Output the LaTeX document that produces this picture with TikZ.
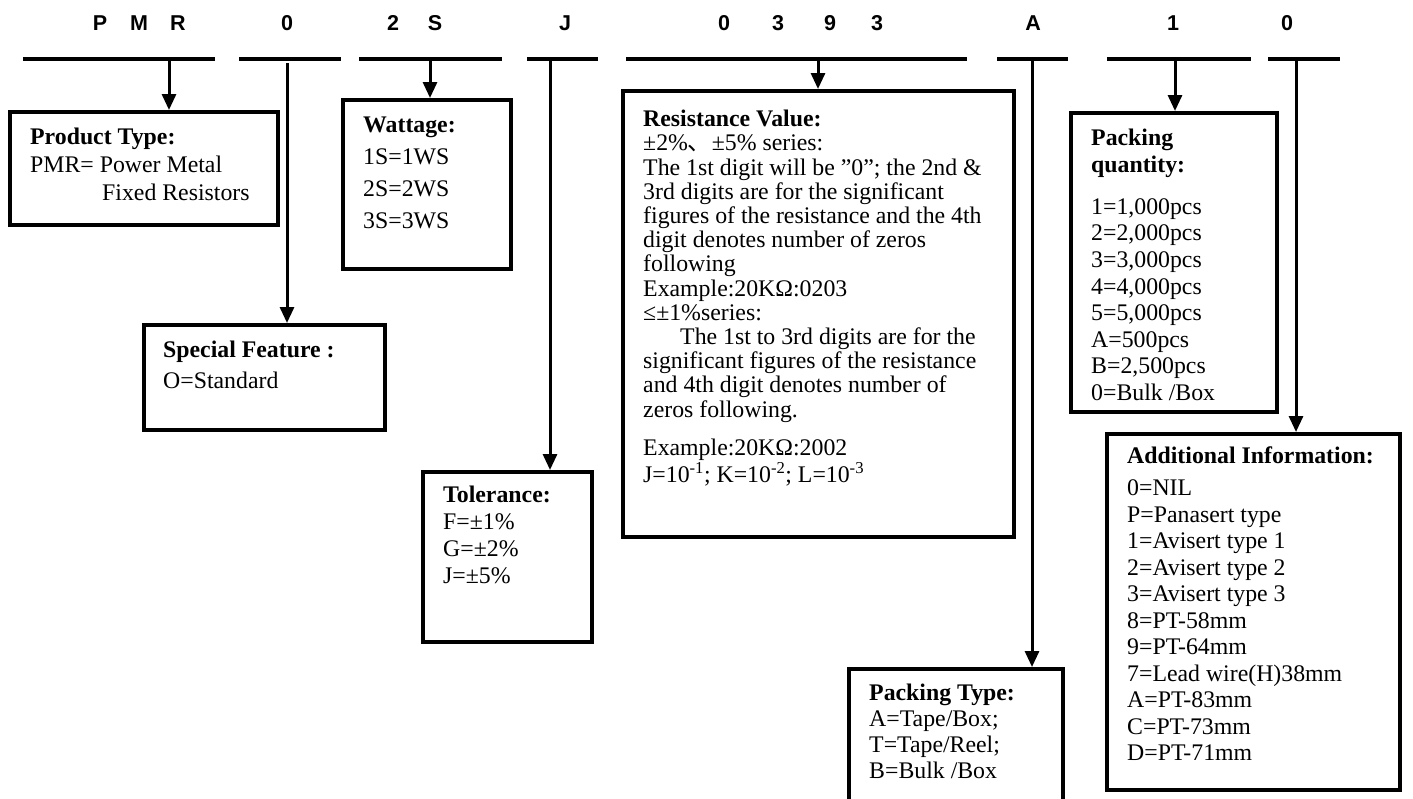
\documentclass[tikz,border=0pt]{standalone}
\usepackage{fontspec}
\setmainfont{Liberation Serif}
\newfontfamily\codefont{Liberation Sans}
\newfontfamily\cjk{Noto Sans CJK SC}
\usetikzlibrary{arrows.meta,calc}
\begin{document}
\begin{tikzpicture}[x=1pt,y=-1pt,
  bar/.style={line width=4pt},
  conn/.style={line width=3pt,-{Triangle[width=14pt,length=16pt]}},
  box/.style={draw,line width=3.5pt,rectangle,inner sep=0pt,anchor=north west},
  txt/.style={anchor=north west,inner sep=0pt,align=left,font=\fontsize{23.8}{#1}\selectfont},
  code/.style={font=\codefont\bfseries\fontsize{21.5}{24}\selectfont,inner sep=0pt,anchor=base}]
\useasboundingbox (0,0) rectangle (1413,798);
\fill[white] (0,0) rectangle (1413,798);

% code letters
\foreach \x/\t [count=\i] in {100/P,139/M,178/R,287/0,393/2,435/S,565/J,724/0,778/3,830/9,877/3,1033/A,1173/1,1287/0}
  \node[code] (c\i) at (\x,30.2) {\t};

% bars
\foreach \a/\b [count=\i] in {23/215,239/341,359/502,527/598,626/967,997/1068,1107/1251,1268/1340}{
  \coordinate (bl\i) at (\a,58.5);
  \coordinate (br\i) at (\b,58.5);
  \draw[bar] (bl\i) -- (br\i);
}

% boxes
\node[box,minimum width=268,minimum height=113] (ptype) at (8,110) {};
\node[box,minimum width=241,minimum height=105] (spec) at (142,323) {};
\node[box,minimum width=168,minimum height=169] (watt) at (341,98) {};
\node[box,minimum width=169,minimum height=170] (tol) at (421,470) {};
\node[box,minimum width=391,minimum height=446] (res) at (621,89) {};
\node[box,minimum width=214,minimum height=133] (ptyp) at (847,667) {};
\node[box,minimum width=206,minimum height=299] (pqty) at (1069,111) {};
\node[box,minimum width=293,minimum height=356] (add) at (1105,432) {};

% connector starts
\coordinate (t1) at (169,58.5);
\coordinate (t2) at (287,63);
\coordinate (t3) at (430,58.5);
\coordinate (t4) at (550,58.5);
\coordinate (t5) at (818,58.5);
\coordinate (t6) at (1032,58.5);
\coordinate (t7) at (1175,58.5);
\coordinate (t8) at (1296,58.5);
\draw[conn] (t1) -- (t1 |- ptype.north);
\draw[conn] (t2) -- (t2 |- spec.north);
\draw[conn] (t3) -- (t3 |- watt.north);
\draw[conn] (t4) -- (t4 |- tol.north);
\draw[conn] (t5) -- (t5 |- res.north);
\draw[conn] (t6) -- (t6 |- ptyp.north);
\draw[conn] (t7) -- (t7 |- pqty.north);
\draw[conn] (t8) -- (t8 |- add.north);

% texts
\node[txt=28] (ptypeT) at (30,128) {\textbf{Product Type:}\\PMR= Power Metal\\\hspace*{72pt}Fixed Resistors};
\node[txt=31] (specT) at (163,341) {\textbf{Special Feature :}\\O=Standard};
\node[txt=32] (wattT) at (363,117) {\textbf{Wattage:}\\1S=1WS\\2S=2WS\\3S=3WS};
\node[txt=27] (tolT) at (443,486) {\textbf{Tolerance:}\\F=±1\%\\G=±2\%\\J=±5\%};
\node[txt=24.2] (resT) at (643,110) {\textbf{Resistance Value:}\\
±2\%{\cjk 、}±5\% series:\\
The 1st digit will be ”0”; the 2nd \&\\
3rd digits are for the significant\\
figures of the resistance and the 4th\\
digit denotes number of zeros\\
following\\
Example:20KΩ:0203\\
≤±1\%series:\\
\hspace*{37pt}The 1st to 3rd digits are for the\\
significant figures of the resistance\\
and 4th digit denotes number of\\
zeros following.\\[14pt]
Example:20KΩ:2002\\[1pt]
J=10\textsuperscript{-1}; K=10\textsuperscript{-2}; L=10\textsuperscript{-3}};
\node[txt=26] (ptypT) at (869,684) {\textbf{Packing Type:}\\A=Tape/Box;\\T=Tape/Reel;\\B=Bulk /Box};
\node[txt=26.6] (pqtyT) at (1091,129) {\textbf{Packing}\\\textbf{quantity:}\\[15.4pt]
1=1,000pcs\\2=2,000pcs\\3=3,000pcs\\4=4,000pcs\\5=5,000pcs\\A=500pcs\\B=2,500pcs\\0=Bulk /Box};
\node[txt=26.5] (addT) at (1127,447) {\textbf{Additional Information:}\\[5.5pt]
0=NIL\\P=Panasert type\\1=Avisert type 1\\2=Avisert type 2\\3=Avisert type 3\\8=PT-58mm\\9=PT-64mm\\7=Lead wire(H)38mm\\A=PT-83mm\\C=PT-73mm\\D=PT-71mm};
\end{tikzpicture}
\end{document}
